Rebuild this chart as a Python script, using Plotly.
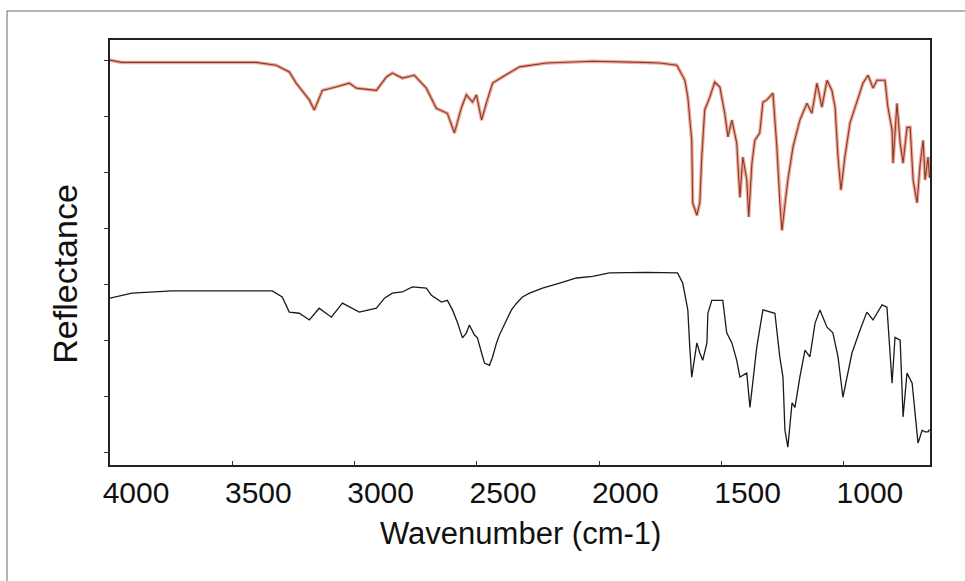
import plotly.graph_objects as go

# ---- data ----
top_wavenumber = [4000, 3951, 3402, 3321, 3267, 3239, 3185, 3165, 3132, 3075, 3022, 2993, 2911, 2870,
                  2846, 2805, 2756, 2707, 2666, 2621, 2592, 2563, 2543, 2518, 2502, 2481, 2461, 2436,
                  2396, 2326, 2215, 2027, 1822, 1753, 1683, 1650, 1638, 1622, 1618, 1601, 1589, 1581,
                  1569, 1548, 1528, 1507, 1487, 1474, 1458, 1438, 1425, 1413, 1397, 1389, 1376, 1364,
                  1344, 1331, 1315, 1290, 1274, 1262, 1253, 1241, 1229, 1208, 1180, 1151, 1131, 1110,
                  1090, 1069, 1049, 1036, 1024, 1012, 996, 975, 955, 922, 901, 881, 865, 832, 820, 803,
                  799, 783, 770, 758, 742, 729, 717, 701, 688, 676, 668, 656, 650]
top_reflectance = [7.00, 6.96, 6.96, 6.91, 6.79, 6.59, 6.29, 6.11, 6.46, 6.52, 6.59, 6.50, 6.46, 6.70,
                   6.77, 6.68, 6.73, 6.50, 6.14, 6.05, 5.70, 6.16, 6.38, 6.25, 6.38, 5.93, 6.25, 6.59,
                   6.70, 6.88, 6.95, 6.98, 6.96, 6.95, 6.91, 6.64, 6.34, 5.57, 4.45, 4.23, 4.45, 5.27,
                   6.11, 6.34, 6.61, 6.52, 6.05, 5.63, 5.93, 5.52, 4.55, 5.27, 4.86, 4.20, 5.16, 5.57,
                   5.70, 6.25, 6.29, 6.41, 5.45, 4.45, 3.96, 4.45, 4.86, 5.45, 5.93, 6.23, 6.05, 6.59,
                   6.16, 6.64, 6.46, 6.16, 5.27, 4.68, 5.27, 5.88, 6.16, 6.59, 6.73, 6.50, 6.64, 6.64,
                   6.16, 5.75, 5.16, 6.23, 5.52, 5.16, 5.80, 5.80, 4.86, 4.45, 5.16, 5.57, 4.86, 5.27,
                   4.90]

bottom_wavenumber = [4000, 3910, 3746, 3337, 3296, 3267, 3226, 3185, 3145, 3095, 3050, 2993, 2981,
                     2911, 2878, 2846, 2805, 2764, 2707, 2686, 2645, 2621, 2600, 2580, 2559, 2543, 2531,
                     2510, 2498, 2481, 2469, 2449, 2436, 2420, 2408, 2379, 2359, 2338, 2314, 2285, 2232,
                     2162, 2093, 2027, 1958, 1806, 1680, 1659, 1638, 1630, 1622, 1601, 1589, 1577, 1560,
                     1556, 1540, 1495, 1479, 1458, 1438, 1425, 1397, 1384, 1372, 1356, 1331, 1302, 1282,
                     1262, 1249, 1241, 1229, 1212, 1200, 1180, 1159, 1139, 1118, 1098, 1069, 1045, 1024,
                     1004, 987, 967, 934, 906, 881, 844, 824, 811, 803, 791, 770, 758, 742, 721, 709, 697,
                     680, 668, 656, 650]
bottom_reflectance = [2.75, 2.84, 2.88, 2.88, 2.77, 2.50, 2.48, 2.36, 2.57, 2.41, 2.66, 2.54, 2.50,
                      2.57, 2.75, 2.84, 2.86, 2.95, 2.93, 2.80, 2.68, 2.71, 2.54, 2.32, 2.04, 2.13, 2.27,
                      2.09, 2.04, 1.77, 1.59, 1.55, 1.70, 1.95, 2.09, 2.36, 2.54, 2.66, 2.77, 2.84, 2.93,
                      3.02, 3.11, 3.14, 3.20, 3.21, 3.20, 3.02, 2.54, 1.88, 1.34, 1.95, 1.77, 1.64, 1.95,
                      2.48, 2.71, 2.71, 2.13, 1.95, 1.64, 1.34, 1.41, 0.80, 1.23, 1.88, 2.54, 2.50, 2.48,
                      1.70, 1.34, 0.39, 0.09, 0.88, 0.80, 1.34, 1.82, 1.70, 2.30, 2.54, 2.23, 2.13, 1.70,
                      0.98, 1.34, 1.77, 2.18, 2.50, 2.36, 2.63, 2.59, 1.82, 1.23, 2.05, 2.00, 0.63, 1.41,
                      1.23, 0.63, 0.16, 0.39, 0.36, 0.36, 0.40]

x_tick_values = [4000, 3500, 3000, 2500, 2000, 1500, 1000]
x_tick_labels = ["4000", "3500", "3000", "2500", "2000", "1500", "1000"]
y_tick_values = [0, 1, 2, 3, 4, 5, 6, 7]

FONT = "Liberation Sans, Arial, sans-serif"

fig = go.Figure()
fig.add_trace(go.Scatter(x=top_wavenumber, y=top_reflectance, mode="lines",
                         line=dict(color="#eeab98", width=3.5), hoverinfo="skip", showlegend=False))
fig.add_trace(go.Scatter(x=top_wavenumber, y=top_reflectance, mode="lines",
                         line=dict(color="#8a3a2c", width=1.1), showlegend=False))
fig.add_trace(go.Scatter(x=bottom_wavenumber, y=bottom_reflectance, mode="lines",
                         line=dict(color="#1a1a1a", width=1.3), showlegend=False))

fig.update_layout(
    width=965, height=581,
    margin=dict(l=110, r=35, t=40, b=116),
    paper_bgcolor="white", plot_bgcolor="white",
    font=dict(family=FONT, color="#111"),
    showlegend=False,
)
fig.update_xaxes(
    range=[4000, 648], autorange=False,
    tickvals=x_tick_values, ticktext=x_tick_labels,
    tickfont=dict(size=30, family=FONT, color="#111"),
    ticks="inside", ticklen=4, tickcolor="#333", tickwidth=1,
    showline=True, linecolor="#222", linewidth=2, mirror=True,
    showgrid=False, zeroline=False, ticklabelshift=-26,
)
fig.update_yaxes(
    range=[-0.23, 7.36], autorange=False,
    tickvals=y_tick_values, showticklabels=False,
    ticks="outside", ticklen=4, tickcolor="#333", tickwidth=1,
    showline=True, linecolor="#222", linewidth=2, mirror=True,
    showgrid=False, zeroline=False,
)

# axis titles
fig.add_annotation(text="Wavenumber (cm-1)", xref="paper", yref="paper", x=0.5, y=-0.162,
                   xanchor="center", yanchor="middle", showarrow=False,
                   font=dict(size=31, family=FONT, color="#111"))
fig.add_annotation(text="Reflectance", xref="paper", yref="paper", x=-0.0549, y=0.45,
                   xanchor="center", yanchor="middle", showarrow=False, textangle=-90,
                   font=dict(size=34, family=FONT, color="#111"))

# outer frame of the figure
fig.add_shape(type="rect", xref="paper", yref="paper", x0=-0.1256, x1=1.0549, y0=-0.3176, y1=1.0682,
              line=dict(color="#666", width=1), layer="below")

fig.write_html("out.html")
